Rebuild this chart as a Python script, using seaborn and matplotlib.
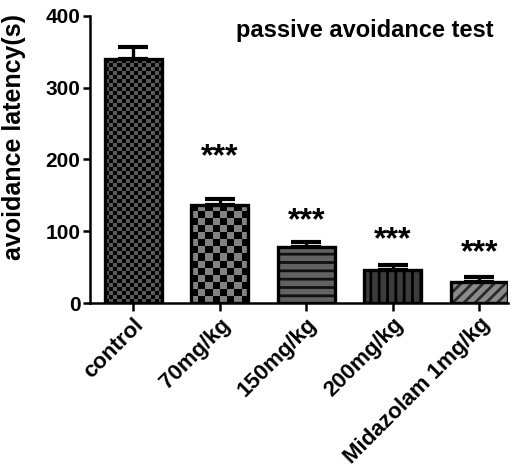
import numpy as np
import pandas as pd
import matplotlib
matplotlib.use("Agg")
import matplotlib.pyplot as plt
import seaborn as sns
from matplotlib.colors import ListedColormap

# ---- data ----
groups = ["control", "70mg/kg", "150mg/kg", "200mg/kg", "Midazolam 1mg/kg"]
latency = [340, 137, 78, 46, 29]
sem = [17, 8, 7, 7, 7]
star_y = [None, 203, 114, 88, 70]
star_text = ["", "***", "***", "***", "***"]
title = "passive avoidance test"
ylabel = "avoidance latency(s)"
yticks = [0, 100, 200, 300, 400]

sns.set_theme(style="ticks")
plt.rcParams["font.family"] = ["Liberation Sans", "DejaVu Sans"]
plt.rcParams["font.weight"] = "bold"
plt.rcParams["hatch.linewidth"] = 2.0
plt.rcParams["text.color"] = "black"
plt.rcParams["axes.labelcolor"] = "black"
plt.rcParams["xtick.color"] = "black"
plt.rcParams["ytick.color"] = "black"

fig = plt.figure(figsize=(5.15, 4.73), dpi=100)
ax = fig.add_axes([0.1748, 0.3594, 0.8112, 0.6068])

df = pd.DataFrame({"group": groups, "latency": latency})
sns.barplot(data=df, x="group", y="latency", ax=ax, width=0.66,
            color="#606060", errorbar=None, saturation=1, zorder=2)

ax.set_xlim(-0.5, 4.33)
ax.set_ylim(0, 400)

styles = [
    dict(kind="checker", cell=4, c=("#000000", "#5a5a5a")),
    dict(kind="checker", cell=7, c=("#000000", "#828282")),
    dict(kind="hatch", hatch="--", face="#626262", hc="#111111"),
    dict(kind="hatch", hatch="||", face="#3c3c3c", hc="#000000"),
    dict(kind="hatch", hatch="///", face="#8a8a8a", hc="#2a2a2a"),
]

patches = list(ax.patches)
for p, st in zip(patches, styles):
    p.set_edgecolor("black")
    p.set_linewidth(2.4)
    if st["kind"] == "hatch":
        p.set_facecolor(st["face"])
        p.set_hatch(st["hatch"])
        p._hatch_color = matplotlib.colors.to_rgba(st["hc"])
    else:
        p.set_facecolor(st["c"][1])
        x0, w, h = p.get_x(), p.get_width(), p.get_height()
        (px0, py0), (px1, py1) = ax.transData.transform([(x0, 0), (x0 + w, h)])
        nc = max(1, int(round((px1 - px0) / st["cell"])))
        nr = max(1, int(round((py1 - py0) / st["cell"])))
        arr = (np.add.outer(np.arange(nr), np.arange(nc)) % 2).astype(float)
        cmap = ListedColormap([st["c"][0], st["c"][1]])
        im = ax.imshow(arr, cmap=cmap, extent=(x0, x0 + w, 0, h), aspect="auto",
                       interpolation="nearest", zorder=2.1, vmin=0, vmax=1)
        im.set_clip_path(p)
        p.set_zorder(2.2)
        p.set_facecolor("none")

ax.set_xlim(-0.5, 4.33)
ax.set_ylim(0, 400)

xs = np.arange(len(groups))
ax.errorbar(xs, latency, yerr=[np.zeros(len(sem)), sem], fmt="none",
            ecolor="black", elinewidth=2.4, capsize=10.8, capthick=3.0, zorder=1.5)

for x, y, t in zip(xs, star_y, star_text):
    if y is not None:
        ax.text(x, y, t, ha="center", va="center", fontsize=23, fontweight="bold")

ax.text(0.965, 0.95, title, transform=ax.transAxes, ha="right", va="center",
        fontsize=17, fontweight="bold")

ax.set_yticks(yticks)
ax.set_xlabel("")
ax.set_ylabel(ylabel, fontsize=18, fontweight="bold")
ax.yaxis.set_label_coords(-0.153, 0.58)
ax.set_xticks(xs)
ax.set_xticklabels(groups, rotation=45, ha="right", rotation_mode="anchor",
                   fontsize=16, fontweight="bold")
for lab in ax.get_yticklabels():
    lab.set_fontsize(15)
    lab.set_fontweight("bold")

for s in ["top", "right"]:
    ax.spines[s].set_visible(False)
for s in ["left", "bottom"]:
    ax.spines[s].set_linewidth(1.8)
    ax.spines[s].set_color("black")
ax.tick_params(axis="both", width=1.8, length=5, color="black", pad=2)
ax.tick_params(axis="x", length=6)

fig.savefig("out.png", dpi=100)
